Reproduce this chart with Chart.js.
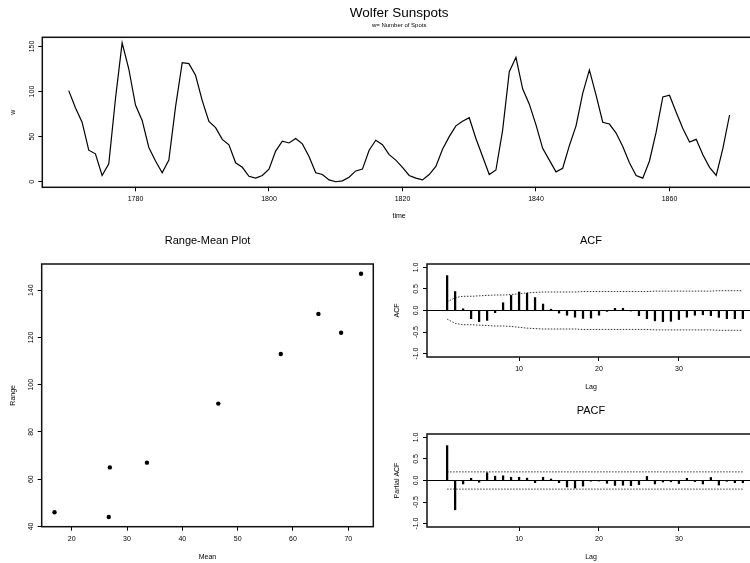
<!DOCTYPE html>
<html>
<head>
<meta charset="utf-8">
<script src="https://cdn.jsdelivr.net/npm/chart.js@4"></script>
<style>
  html, body { margin: 0; padding: 0; background: #fff; overflow: hidden; width: 750px; height: 563px; }
  canvas { position: absolute; }
</style>
</head>
<body>
<canvas id="spots" width="770" height="230" style="left:0;top:0"></canvas>
<canvas id="rangeMean" width="400" height="333" style="left:0;top:230px"></canvas>
<canvas id="acf" width="390" height="165" style="left:380px;top:230px"></canvas>
<canvas id="pacf" width="390" height="165" style="left:380px;top:400px"></canvas>
<script>
// Wolfer sunspot numbers, one per year from 1770
const firstYear = 1770;
const spots = [101, 82, 66, 35, 31, 7, 20, 92, 154, 125,
    85, 68, 38, 23, 10, 24, 83, 132, 131, 118,
    90, 67, 60, 47, 41, 21, 16, 6, 4, 7,
    14, 34, 45, 43, 48, 42, 28, 10, 8, 2,
    0, 1, 5, 12, 14, 35, 46, 41, 30, 24,
    16, 7, 4, 2, 8, 17, 36, 50, 62, 67,
    71, 48, 28, 8, 13, 57, 122, 138, 103, 86,
    63, 37, 24, 11, 15, 40, 62, 98, 124, 96,
    66, 64, 54, 39, 21, 7, 4, 23, 55, 94,
    96, 77, 59, 44, 47, 30, 16, 7, 37, 74];
const yearTicks = [1780, 1800, 1820, 1840, 1860];
const spotTicks = [0, 50, 100, 150];

// range-mean plot
const means = [16.9, 26.9, 26.7, 33.6, 46.5, 57.8, 64.6, 68.7, 72.3];
const ranges = [46, 65, 44, 67, 92, 113, 130, 122, 147];
const meanTicks = [20, 30, 40, 50, 60, 70];
const rangeTicks = [40, 60, 80, 100, 120, 140];

// ACF / PACF, lags 1..38
const acfVals = [0.81, 0.44, 0.04, -0.19, -0.26, -0.23, -0.05, 0.18, 0.35, 0.43,
    0.40, 0.30, 0.15, 0.03, -0.06, -0.11, -0.155, -0.185, -0.175, -0.11,
    -0.02, 0.05, 0.05, -0.01, -0.12, -0.19, -0.24, -0.26, -0.25, -0.21,
    -0.155, -0.11, -0.10, -0.12, -0.16, -0.19, -0.19, -0.19];
const acfBand = [0.20, 0.30, 0.33, 0.33, 0.34, 0.35, 0.36, 0.36, 0.37, 0.39,
    0.41, 0.42, 0.43, 0.43, 0.43, 0.43, 0.43, 0.44, 0.44, 0.44,
    0.44, 0.44, 0.44, 0.44, 0.44, 0.44, 0.45, 0.45, 0.45, 0.45,
    0.45, 0.45, 0.45, 0.45, 0.46, 0.46, 0.46, 0.46];
const pacfVals = [0.81, -0.68, -0.08, 0.05, -0.04, 0.18, 0.10, 0.11, 0.075, 0.075,
    0.055, -0.05, 0.075, 0.035, -0.05, -0.15, -0.175, -0.13, -0.015, -0.012,
    -0.065, -0.115, -0.11, -0.12, -0.095, 0.095, -0.08, -0.035, -0.03, -0.07,
    0.05, -0.025, -0.08, 0.07, -0.105, -0.018, -0.05, -0.052];
const pacfBand = 0.2;
const corrTicks = [-1, -0.5, 0, 0.5, 1];
const lagTicks = [10, 20, 30];

const FONT = "'Liberation Sans', Arial, Helvetica, sans-serif";
Chart.defaults.font.family = FONT;
Chart.defaults.color = '#000';

// draw the full frame around the plot region
const boxPlugin = {
    id: 'box',
    afterDraw(chart) {
        const a = chart.chartArea;
        const ctx = chart.ctx;
        ctx.save();
        ctx.strokeStyle = '#111';
        ctx.lineWidth = 1.5;
        ctx.strokeRect(a.left, a.top, a.right - a.left, a.bottom - a.top);
        ctx.restore();
    }
};

function makeScale(o) {
    return {
        type: 'linear',
        min: o.min,
        max: o.max,
        offset: false,
        afterBuildTicks: s => { s.ticks = o.ticks.map(v => ({ value: v })); },
        afterFit: s => { if (s.isHorizontal()) s.height = o.size; else s.width = o.size; },
        grid: {
            offset: false,
            drawOnChartArea: !!o.zeroLine,
            color: c => (o.zeroLine && c.tick && c.tick.value === 0) ? '#000' : 'rgba(0,0,0,0)',
            tickColor: '#000',
            tickLength: 4,
            lineWidth: 1
        },
        border: { display: false },
        ticks: {
            autoSkip: false,
            font: { size: 7 },
            color: '#000',
            padding: o.pad,
            minRotation: o.rot || 0,
            maxRotation: o.rot || 0,
            crossAlign: o.rot ? 'center' : 'near',
            callback: o.fmt || (v => String(v))
        },
        title: { display: true, text: o.title, font: { size: 7 }, color: '#000', padding: o.titlePad }
    };
}

// titles sit over the plot region only, not the whole canvas
function titleOpts(text, size, top, bottom) {
    return { display: true, fullSize: false, text: text, font: { size: size, weight: 'normal' }, color: '#000', padding: { top: top, bottom: bottom } };
}

// top: time series
new Chart(document.getElementById('spots'), {
    type: 'line',
    data: {
        datasets: [{
            data: spots.map((v, i) => ({ x: firstYear + i, y: v })),
            borderColor: '#000',
            borderWidth: 1.2,
            pointRadius: 0,
            tension: 0
        }]
    },
    options: {
        responsive: false,
        animation: false,
        layout: { padding: { left: 0, right: 14, top: 0, bottom: 0 } },
        plugins: {
            legend: { display: false },
            tooltip: { enabled: false },
            title: titleOpts('Wolfer Sunspots', 13.5, 5.5, 0),
            subtitle: titleOpts('w= Number of Spots', 6, 0, 8.4)
        },
        scales: {
            x: makeScale({ min: 1766.04, max: 1872.96, ticks: yearTicks, size: 42.7, pad: 4, title: 'time', titlePad: { top: 0, bottom: 9.4 } }),
            y: makeScale({ min: -6.16, max: 160.16, ticks: spotTicks, size: 42.3, pad: 0.8, rot: 90, title: 'w', titlePad: { top: 8.5, bottom: 0 } })
        }
    },
    plugins: [boxPlugin]
});

// bottom left: range-mean plot
new Chart(document.getElementById('rangeMean'), {
    type: 'scatter',
    data: {
        datasets: [{
            data: means.map((m, i) => ({ x: m, y: ranges[i] })),
            backgroundColor: '#000',
            borderWidth: 0,
            pointRadius: 2.2
        }]
    },
    options: {
        responsive: false,
        animation: false,
        layout: { padding: { left: 0, right: 26.7, top: 0, bottom: 0 } },
        plugins: {
            legend: { display: false },
            tooltip: { enabled: false },
            title: titleOpts('Range-Mean Plot', 11, 4.1, 16.7)
        },
        scales: {
            x: makeScale({ min: 14.58, max: 74.52, ticks: meanTicks, size: 36.3, pad: 4, title: 'Mean', titlePad: { top: 0, bottom: 1.8 } }),
            y: makeScale({ min: 39.88, max: 151.12, ticks: rangeTicks, size: 41.7, pad: 0.8, rot: 90, title: 'Range', titlePad: { top: 8.5, bottom: 0 } })
        }
    },
    plugins: [boxPlugin]
});

function corrChart(id, name, yTitle, vals, upper) {
    const lags = vals.map((v, i) => i + 1);
    new Chart(document.getElementById(id), {
        type: 'bar',
        data: {
            datasets: [
                {
                    type: 'bar',
                    data: lags.map((l, i) => ({ x: l, y: vals[i] })),
                    backgroundColor: '#000',
                    barThickness: 1.6
                },
                {
                    type: 'line',
                    data: lags.map((l, i) => ({ x: l, y: upper[i] })),
                    borderColor: '#333',
                    borderWidth: 1,
                    borderDash: [1.5, 1.5],
                    pointRadius: 0
                },
                {
                    type: 'line',
                    data: lags.map((l, i) => ({ x: l, y: -upper[i] })),
                    borderColor: '#333',
                    borderWidth: 1,
                    borderDash: [1.5, 1.5],
                    pointRadius: 0
                }
            ]
        },
        options: {
            responsive: false,
            animation: false,
            layout: { padding: { left: 0, right: 15, top: 0, bottom: 0 } },
            plugins: {
                legend: { display: false },
                tooltip: { enabled: false },
                title: titleOpts(name, 11, 4.4, 16.4)
            },
            scales: {
                x: makeScale({ min: -1.52, max: 39.52, ticks: lagTicks, size: 38, pad: 4, title: 'Lag', titlePad: { top: 0, bottom: 4.1 } }),
                y: makeScale({ min: -1.08, max: 1.08, ticks: corrTicks, size: 47, pad: 0.6, rot: 90, zeroLine: true,
                    fmt: v => v.toFixed(1), title: yTitle, titlePad: { top: 12.8, bottom: 0 } })
            }
        },
        plugins: [boxPlugin]
    });
}

corrChart('acf', 'ACF', 'ACF', acfVals, acfBand);
corrChart('pacf', 'PACF', 'Partial ACF', pacfVals, pacfVals.map(() => pacfBand));
</script>
</body>
</html>
